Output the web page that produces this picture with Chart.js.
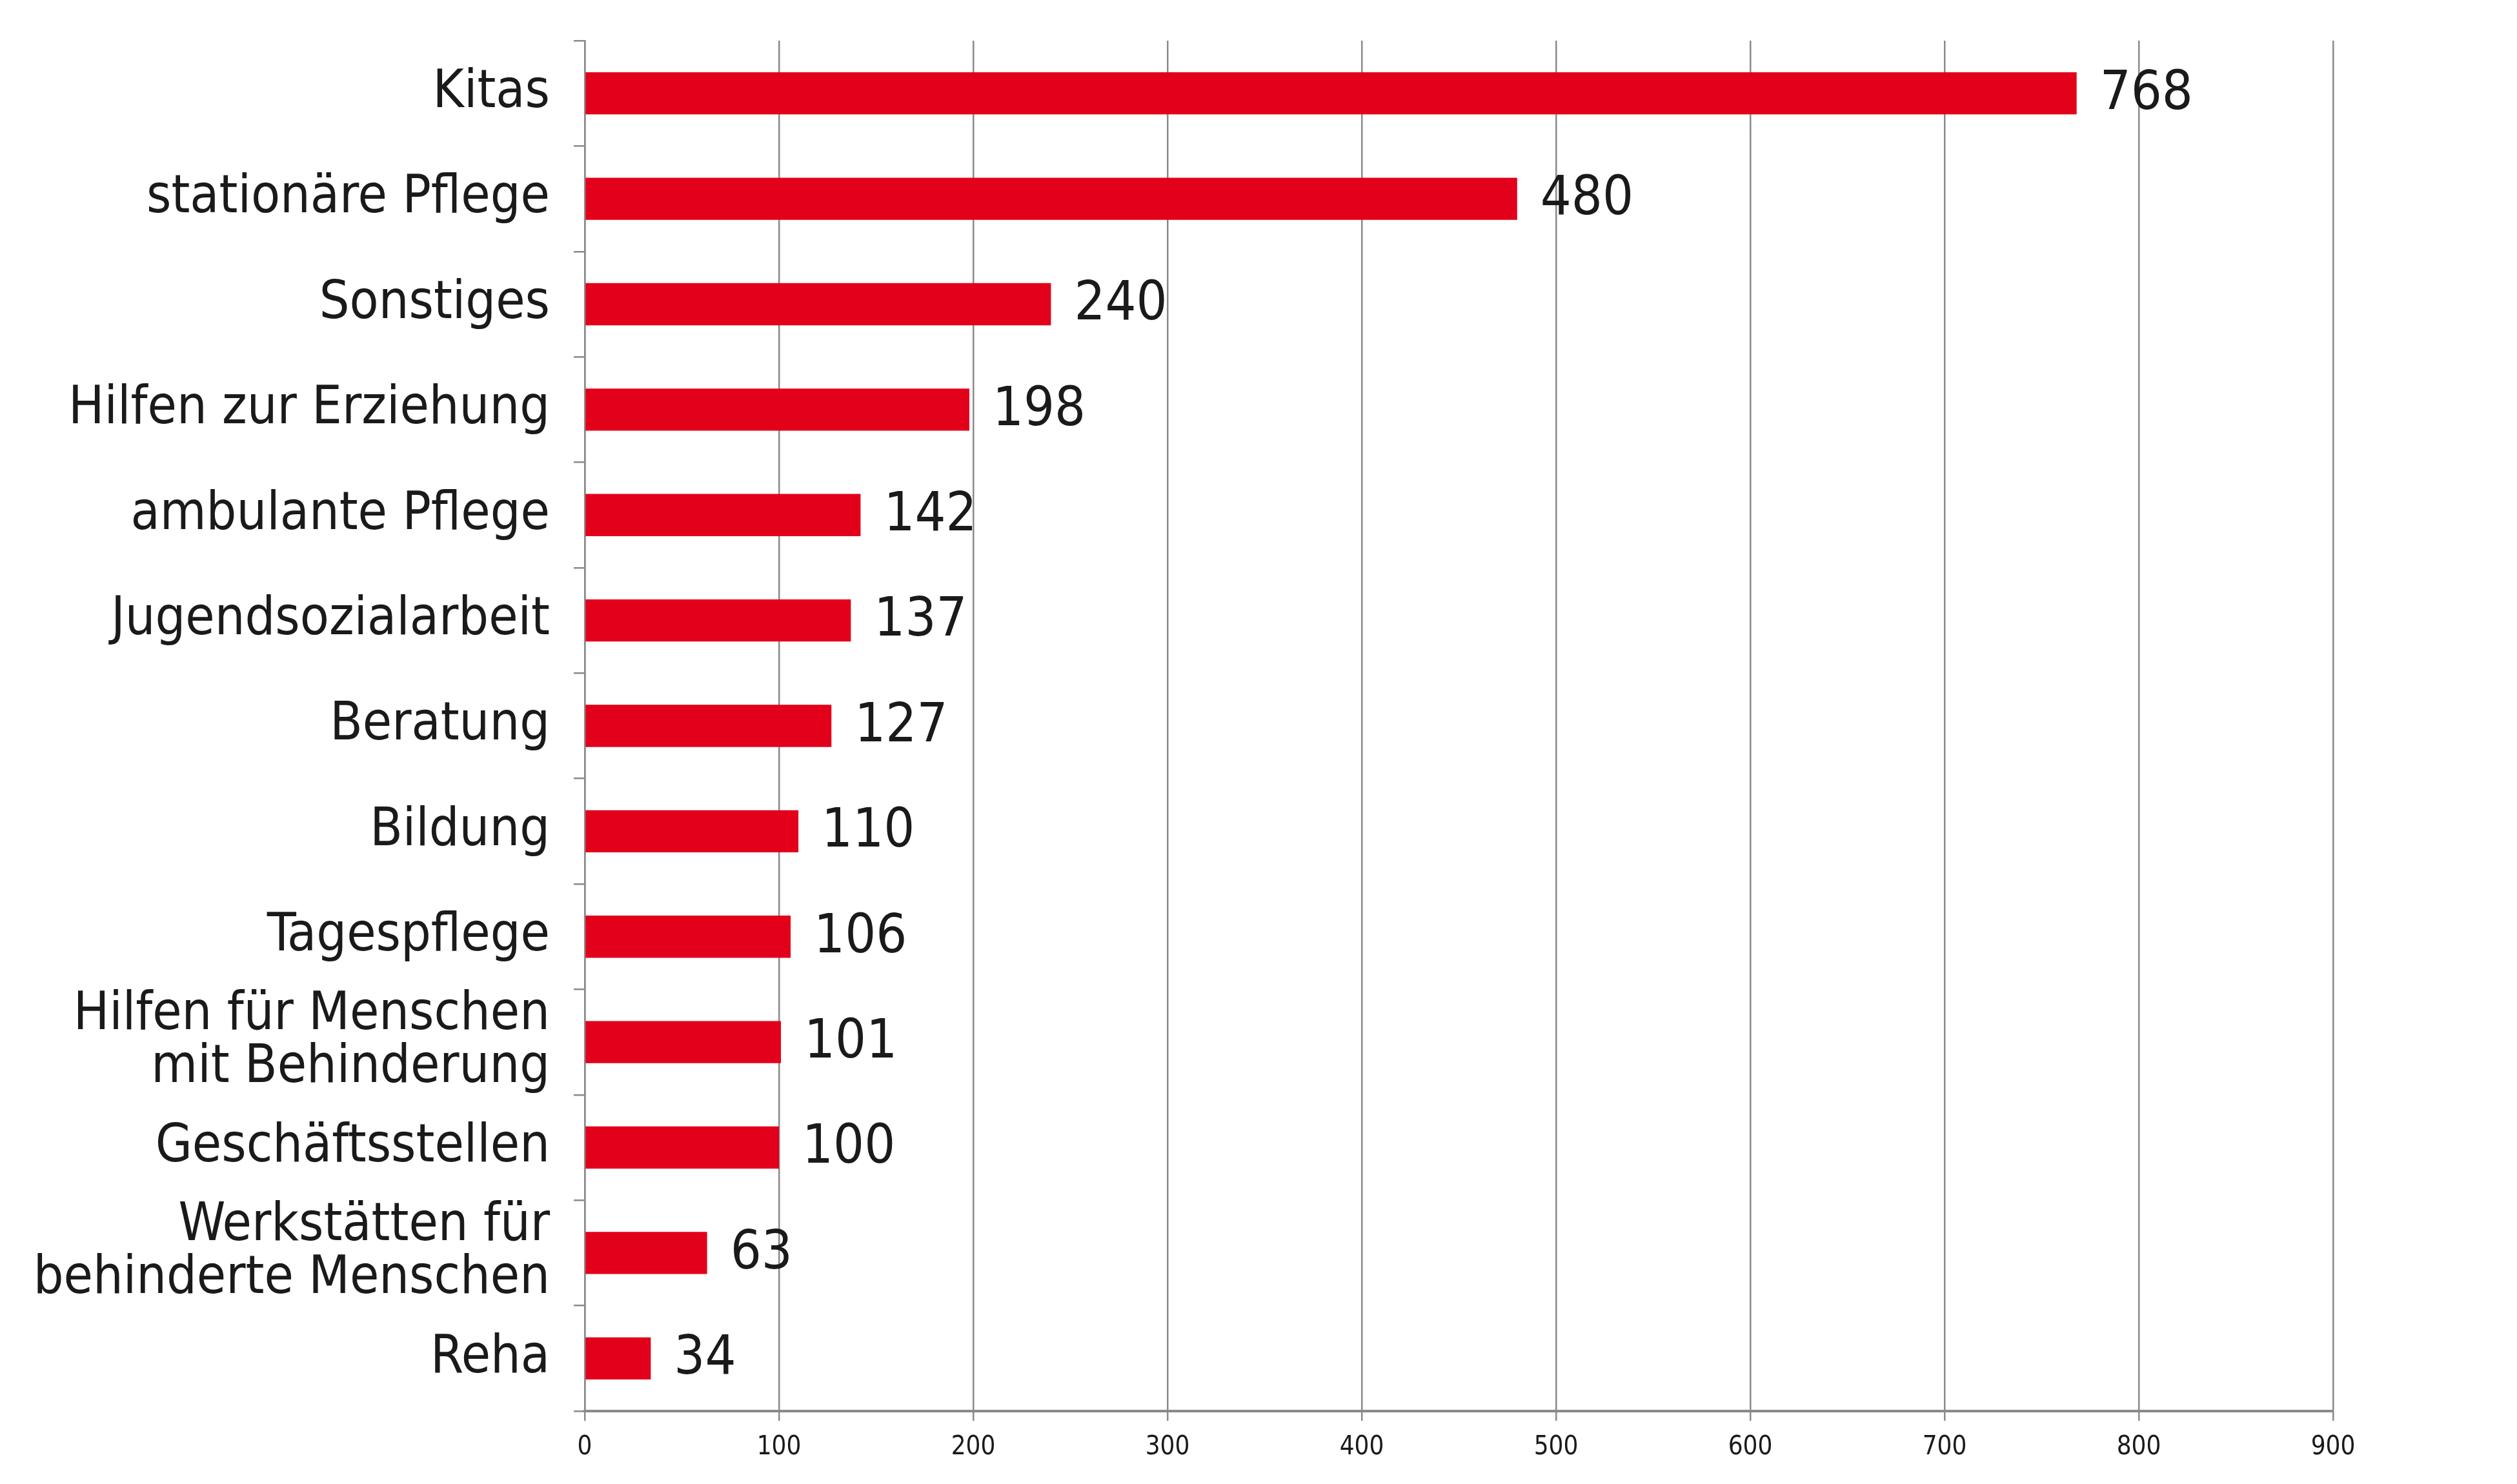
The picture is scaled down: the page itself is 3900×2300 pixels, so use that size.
<!DOCTYPE html>
<html>
<head>
<meta charset="utf-8">
<script src="https://cdn.jsdelivr.net/npm/chart.js@4"></script>
<style>
html,body{margin:0;padding:0;background:#fff;}
#wrap{width:3900px;height:2300px;}
</style>
</head>
<body>
<div id="wrap"><canvas id="c" width="3900" height="2300"></canvas></div>
<script>
const categories = [
  "Kitas",
  "stationäre Pflege",
  "Sonstiges",
  "Hilfen zur Erziehung",
  "ambulante Pflege",
  "Jugendsozialarbeit",
  "Beratung",
  "Bildung",
  "Tagespflege",
  ["Hilfen für Menschen", "mit Behinderung"],
  "Geschäftsstellen",
  ["Werkstätten für", "behinderte Menschen"],
  "Reha"
];
const values = [768, 480, 240, 198, 142, 137, 127, 110, 106, 101, 100, 63, 34];
const xTicks = [0, 100, 200, 300, 400, 500, 600, 700, 800, 900];

const FONT = "'Liberation Sans Narrow', 'DejaVu Sans Condensed', 'Arial Narrow', sans-serif";
const TEXT = '#1a1a1a';
const GRID = '#8a8a8a';

const valueLabels = {
  id: 'valueLabels',
  afterDatasetsDraw(chart) {
    const ctx = chart.ctx;
    const meta = chart.getDatasetMeta(0);
    ctx.save();
    ctx.font = '84px ' + FONT;
    ctx.fillStyle = TEXT;
    ctx.textAlign = 'left';
    ctx.textBaseline = 'middle';
    meta.data.forEach((bar, i) => {
      ctx.fillText(String(values[i]), bar.x + 36, bar.y + 2);
    });
    ctx.restore();
  }
};

new Chart(document.getElementById('c'), {
  type: 'bar',
  data: {
    labels: categories,
    datasets: [{
      data: values,
      backgroundColor: '#e2001a',
      borderWidth: 0,
      barPercentage: 0.4,
      categoryPercentage: 1.0
    }]
  },
  options: {
    indexAxis: 'y',
    responsive: false,
    devicePixelRatio: 1,
    animation: false,
    layout: { padding: { top: 63, right: 285, bottom: 0, left: 0 } },
    plugins: {
      legend: { display: false },
      tooltip: { enabled: false }
    },
    scales: {
      x: {
        type: 'linear',
        min: 0,
        max: 900,
        afterBuildTicks(scale) { scale.ticks = xTicks.map(v => ({ value: v })); },
        afterFit(scale) { scale.height = 113; scale.paddingLeft = 0; scale.paddingRight = 0; },
        grid: {
          color: GRID,
          lineWidth: 2.5,
          drawTicks: true,
          tickLength: 15,
          tickColor: GRID
        },
        border: { display: true, color: GRID, width: 4 },
        ticks: {
          color: TEXT,
          padding: 18,
          font: { family: FONT, size: 40 },
          maxRotation: 0,
          autoSkip: false
        }
      },
      y: {
        type: 'category',
        afterFit(scale) { scale.width = 906; scale.paddingTop = 0; scale.paddingBottom = 0; },
        grid: {
          offset: true,
          drawOnChartArea: false,
          drawTicks: true,
          tickLength: 17,
          color: GRID,
          lineWidth: 2.5
        },
        border: { display: true, color: GRID, width: 2.5 },
        ticks: {
          color: TEXT,
          padding: 37,
          font: { family: FONT, size: 82, lineHeight: 1.0 },
          autoSkip: false
        }
      }
    }
  },
  plugins: [valueLabels]
});
</script>
</body>
</html>
